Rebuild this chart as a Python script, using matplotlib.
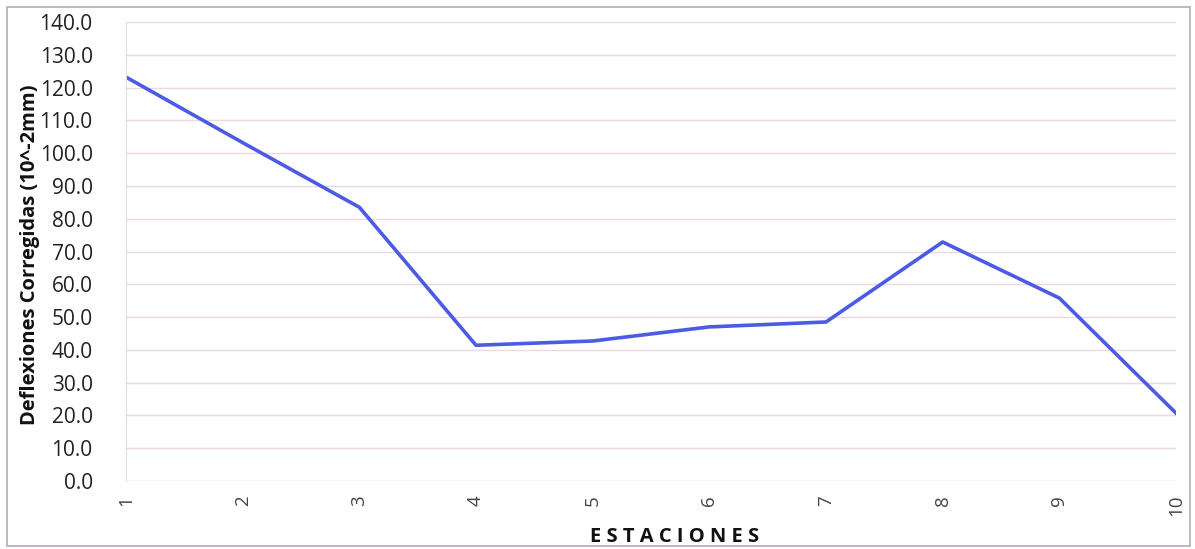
import matplotlib
matplotlib.use("Agg")
import matplotlib.pyplot as plt
from matplotlib.patches import Rectangle

estaciones = [1, 2, 3, 4, 5, 6, 7, 8, 9, 10]
deflexiones = [123.2, 103.2, 83.5, 41.4, 42.7, 47.0, 48.5, 72.9, 55.8, 20.7]
y_ticks = [0, 10, 20, 30, 40, 50, 60, 70, 80, 90, 100, 110, 120, 130, 140]

plt.rcParams['font.family'] = ['Open Sans', 'DejaVu Sans']

W, H = 1195, 549
fig = plt.figure(figsize=(W / 100, H / 100), dpi=100)
fig.patch.set_facecolor('white')

left, right, top, bottom = 126, 1176, 22, 481
ax = fig.add_axes([left / W, 1 - bottom / H, (right - left) / W, (bottom - top) / H])

ax.plot(estaciones, deflexiones, color='#4b5be3', linewidth=2.6, solid_joinstyle='round')

ax.set_xlim(1, 10)
ax.set_ylim(0, 140)
ax.set_yticks(y_ticks)
ax.set_yticklabels([f"{v:.1f}" for v in y_ticks])
ax.set_xticks(estaciones)
ax.set_xticklabels([str(e) for e in estaciones], rotation=90)

ax.grid(axis='y', color='#ecd8e2', linewidth=1.0)
ax.set_axisbelow(True)
for side in ['top', 'right', 'bottom']:
    ax.spines[side].set_visible(False)
ax.spines['left'].set_color('#e2dde0')
ax.tick_params(axis='both', length=0, labelcolor='#222222')
ax.tick_params(axis='y', labelsize=15, pad=24)
ax.tick_params(axis='x', labelsize=13.5, pad=10)
for lbl in ax.get_xticklabels():
    lbl.set_color('#444444')

fig.text(30 / W, 1 - 255 / H, 'Deflexiones Corregidas (10^-2mm)', rotation=90,
         ha='center', va='center', fontsize=14.5, fontweight='bold', color='#111111')
fig.text(675 / W, 1 - 537 / H, 'E S T A C I O N E S', ha='center', va='center',
         fontsize=14.5, fontweight='bold', color='#111111')

# light frame around the chart
fig.patches.append(Rectangle((7 / W, 3 / H), (1190 - 7) / W, (542 - 3) / H,
                             transform=fig.transFigure, fill=False,
                             edgecolor='#b8a8c0', linewidth=1.2))

fig.savefig('out.png', dpi=100, facecolor='white')
